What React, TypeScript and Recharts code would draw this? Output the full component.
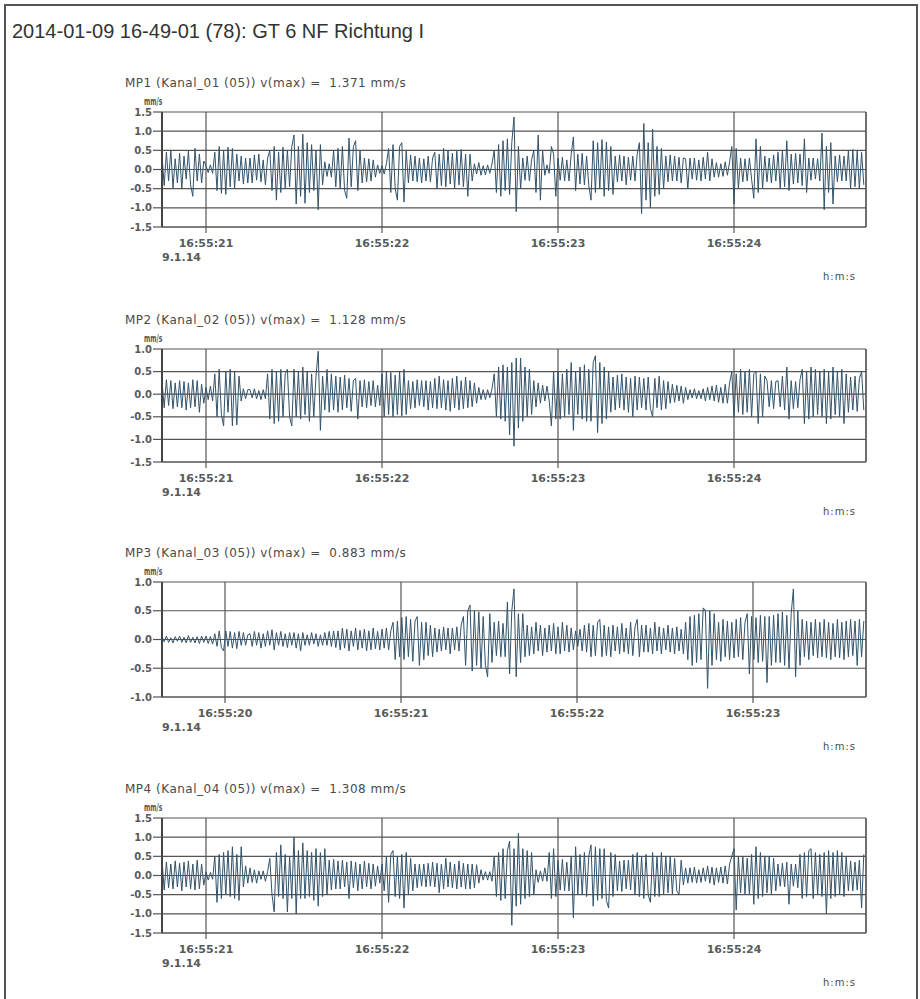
import React from 'react';
import { LineChart, Line, XAxis, YAxis, CartesianGrid, ReferenceLine } from 'recharts';

// vibration velocity, mm/s at 80 samples per second
const RATE = 80;
const SECONDS = 4;

const PAGE_TITLE = '2014-01-09 16-49-01 (78): GT 6 NF Richtung I';
const DATE_LABEL = '9.1.14';
const UNIT = 'mm/s';
const TIME_UNIT = 'h:m:s';

const mp1 = [
  0.38, -0.42, 0.45, -0.3, 0.5, -0.48, 0.28, -0.35, 0.42, -0.5, 0.35, -0.25, 0.48, -0.4, -0.7, 0.55, -0.3, 0.4, -0.35, 0.22,
  0.1, -0.08, 0.12, -0.1, 0.45, -0.55, 0.6, -0.62, 0.5, -0.65, 0.58, -0.45, 0.55, -0.5, 0.4, -0.3, 0.35, -0.38, 0.3, -0.35,
  0.3, -0.35, 0.38, -0.28, 0.4, -0.32, 0.25, -0.4, 0.3, 0.5, -0.55, 0.6, -0.8, 0.45, -0.6, 0.58, -0.5, 0.5, -0.45, 0.6,
  0.9, -0.9, 0.6, -0.7, 0.92, -0.88, 0.7, -0.6, 0.65, -0.55, 0.5, -1.05, 0.65, -0.4, 0.2, -0.18, 0.15, -0.2, 0.5, -0.45,
  0.55, -0.5, 0.6, -0.55, -0.75, 0.82, -0.45, 0.6, 0.75, -0.55, 0.5, -0.35, 0.3, -0.32, 0.28, -0.3, 0.25, -0.2, 0.12, -0.1,
  0.1, -0.12, 0.15, 0.55, -0.6, 0.65, -0.5, -0.8, 0.6, 0.7, -0.85, 0.5, -0.35, 0.38, -0.3, 0.35, -0.32, 0.3, -0.35, 0.28,
  -0.3, 0.35, -0.32, 0.3, 0.45, -0.5, 0.4, -0.42, 0.55, -0.45, 0.5, -0.38, 0.42, -0.5, 0.48, -0.4, 0.52, -0.45, 0.4, -0.7,
  0.4, -0.3, 0.15, -0.12, 0.18, -0.15, 0.1, -0.14, 0.12, -0.1, 0.15, 0.5, -0.6, 0.65, -0.7, 0.75, -0.55, 0.8, -0.65, 0.7,
  1.37, -1.1, 0.6, -0.5, 0.3, -0.28, 0.35, -0.3, 0.25, 0.5, -0.6, 0.9, -0.8, 0.5, -0.15, 0.12, -0.1, 0.6, 0.4, -0.7,
  0.3, -0.28, 0.32, -0.3, 0.25, -0.3, 0.4, 0.85, -0.55, 0.4, -0.38, 0.42, -0.4, 0.35, -0.42, -0.8, 0.75, -0.6, 0.7, -0.5,
  0.78, -0.7, 0.72, -0.55, 0.6, -0.65, 0.35, -0.32, 0.38, -0.3, 0.35, -0.4, 0.32, -0.28, 0.35, -0.3, 0.4, 0.7, -1.15, 1.2,
  -0.8, 0.7, -1.0, 1.05, -0.7, 0.6, -0.65, 0.55, -0.5, 0.35, -0.32, 0.38, -0.3, 0.35, -0.3, 0.32, -0.35, 0.3, 0.28, -0.5,
  0.3, -0.25, 0.3, -0.28, 0.25, -0.3, 0.32, -0.25, 0.45, -0.3, 0.28, -0.2, 0.18, -0.2, 0.15, -0.18, 0.2, -0.15, 0.2, 0.6,
  -0.9, 0.55, -0.5, 0.3, -0.32, 0.28, -0.3, 0.3, -0.25, -0.75, 0.8, -0.6, 0.6, -0.5, 0.35, -0.32, 0.3, -0.35, 0.38, -0.3,
  0.45, -0.5, 0.5, -0.45, 0.75, -0.55, 0.4, -0.38, 0.42, -0.35, 0.4, -0.42, 0.8, -0.6, 0.3, -0.28, 0.3, -0.25, 0.28, -0.3,
  0.95, -1.05, 0.6, -0.6, 0.7, -0.9, 0.35, -0.32, 0.38, -0.3, 0.35, -0.3, 0.5, -0.5, 0.52, -0.45, 0.48, -0.5, 0.45, -0.4,
];

const mp2 = [
  0.28, -0.3, 0.32, -0.25, 0.3, -0.32, 0.25, -0.28, 0.3, -0.3, 0.28, -0.35, 0.25, -0.3, 0.32, -0.28, 0.3, -0.4, 0.22, -0.2,
  0.15, -0.12, 0.18, -0.15, 0.45, -0.5, 0.55, -0.45, -0.7, 0.5, -0.4, 0.55, -0.7, 0.5, -0.68, 0.4, -0.15, 0.12, -0.1, 0.1,
  0.1, -0.08, 0.12, -0.1, 0.08, -0.12, 0.1, -0.1, 0.45, -0.55, 0.55, -0.65, 0.5, -0.6, 0.55, -0.5, 0.45, 0.55, -0.5, -0.7,
  0.55, -0.5, 0.5, -0.55, 0.6, -0.45, 0.5, -0.6, 0.45, -0.5, 0.4, 0.95, -0.8, 0.4, -0.35, 0.55, -0.4, 0.45, -0.35, 0.4,
  -0.4, 0.38, -0.35, 0.42, -0.3, 0.35, -0.38, 0.3, 0.35, -0.55, 0.3, -0.28, 0.32, -0.3, 0.28, -0.25, 0.3, -0.28, 0.2, -0.25,
  0.45, -0.5, 0.5, -0.45, 0.48, -0.5, 0.42, -0.45, 0.5, -0.48, 0.55, -0.45, 0.3, -0.32, 0.28, -0.3, 0.32, -0.25, 0.3, -0.28,
  0.3, -0.35, 0.28, -0.3, 0.35, -0.32, 0.4, -0.3, 0.32, -0.35, 0.3, -0.38, 0.35, -0.3, 0.4, -0.35, 0.3, -0.32, 0.38, -0.3,
  0.3, -0.28, 0.25, -0.2, 0.15, -0.12, 0.1, -0.12, 0.1, -0.08, 0.12, 0.45, -0.5, 0.6, -0.55, 0.65, -0.6, 0.6, -0.9, 0.7,
  -1.15, 0.8, -0.75, 0.8, -0.6, 0.6, -0.5, 0.55, -0.45, 0.3, -0.28, 0.25, -0.2, 0.2, -0.15, 0.18, -0.15, -0.7, 0.5, -0.55,
  0.5, -0.55, 0.45, -0.5, 0.55, -0.45, 0.7, -0.8, 0.5, -0.45, 0.6, -0.55, 0.65, -0.6, 0.55, -0.6, 0.7, 0.85, -0.85, 0.7,
  -0.65, 0.6, -0.55, 0.5, -0.4, 0.38, -0.35, 0.42, -0.3, 0.45, -0.35, 0.38, -0.4, 0.35, -0.5, 0.4, -0.35, 0.38, -0.3, 0.35,
  -0.35, 0.38, -0.32, -0.5, 0.35, -0.3, 0.4, -0.35, 0.3, -0.32, 0.28, -0.2, 0.22, -0.18, 0.2, -0.15, 0.18, -0.2, 0.15, -0.12,
  0.1, -0.08, 0.12, -0.1, 0.08, -0.1, 0.12, -0.15, 0.15, -0.12, 0.18, -0.15, 0.2, -0.18, 0.15, -0.2, 0.22, -0.2, 0.25, 0.5,
  -0.5, 0.45, -0.4, 0.55, -0.45, 0.5, -0.4, 0.55, -0.5, 0.45, 0.5, -0.65, 0.45, -0.5, 0.4, 0.3, -0.28, 0.3, -0.32, 0.28,
  0.3, -0.28, 0.4, -0.35, 0.6, -0.55, 0.3, -0.32, 0.28, -0.3, 0.32, 0.55, -0.65, 0.5, -0.55, 0.6, -0.5, 0.55, -0.45, 0.5,
  -0.5, 0.55, -0.65, 0.5, -0.55, 0.6, -0.45, 0.5, -0.5, 0.55, -0.65, 0.45, -0.4, 0.38, -0.35, 0.4, -0.38, 0.35, 0.5, -0.35,
];

const mp3 = [
  0.05, -0.04, 0.06, -0.05, 0.03, -0.06, 0.05, -0.03, 0.06, -0.05, 0.04, -0.06, 0.07, -0.05, 0.04, -0.06, 0.05, -0.07, 0.06, -0.05,
  0.06, -0.07, 0.05, -0.08, 0.1, -0.12, 0.15, -0.14, -0.2, 0.15, -0.12, 0.14, -0.15, 0.12, -0.16, 0.14, -0.1, 0.12, -0.1, 0.08,
  0.1, -0.12, 0.14, -0.1, 0.12, -0.15, 0.1, -0.12, 0.15, -0.1, 0.17, -0.18, 0.12, -0.1, 0.14, -0.12, 0.1, -0.14, 0.12, -0.1,
  0.12, -0.15, 0.1, -0.2, 0.12, -0.1, 0.08, -0.1, 0.12, -0.08, 0.1, -0.12, 0.08, -0.1, 0.12, -0.1, 0.14, -0.12, 0.15, -0.14,
  0.15, -0.18, 0.2, -0.15, 0.18, -0.2, 0.15, -0.12, 0.2, -0.18, 0.16, -0.15, 0.18, -0.2, 0.15, -0.18, 0.2, -0.16, 0.14, -0.18,
  0.18, -0.15, 0.2, -0.18, 0.15, 0.3, -0.35, 0.32, -0.3, 0.38, -0.35, 0.4, -0.3, 0.35, -0.38, 0.32, 0.4, -0.45, 0.3, -0.35,
  0.3, -0.28, 0.25, -0.3, 0.2, -0.22, 0.18, -0.2, 0.22, -0.18, 0.2, -0.25, 0.2, -0.18, 0.22, -0.2, 0.25, 0.4, -0.45, 0.5,
  0.6, -0.55, 0.5, -0.45, 0.48, -0.5, 0.4, -0.45, -0.65, 0.45, -0.4, 0.3, -0.28, 0.32, -0.3, 0.28, -0.3, 0.65, -0.6, 0.5,
  0.88, -0.65, 0.45, -0.4, 0.45, -0.3, 0.25, -0.28, 0.22, -0.25, 0.3, -0.2, 0.25, -0.28, 0.2, -0.22, 0.25, -0.2, 0.28, -0.25,
  0.22, -0.25, 0.3, -0.2, 0.25, -0.22, 0.2, -0.18, 0.15, -0.12, 0.18, -0.2, 0.25, -0.22, 0.28, -0.3, 0.25, -0.28, 0.3, 0.35,
  -0.3, 0.25, -0.28, 0.22, -0.3, 0.25, -0.2, 0.22, -0.25, 0.28, -0.22, 0.2, -0.25, 0.3, -0.28, 0.22, 0.35, -0.3, 0.25, -0.22,
  0.25, -0.22, 0.2, -0.25, 0.3, -0.2, 0.22, -0.25, 0.2, -0.18, 0.25, -0.22, 0.2, -0.25, 0.22, -0.2, 0.18, -0.25, 0.3, -0.35,
  0.4, -0.45, 0.42, -0.4, 0.45, -0.35, 0.55, 0.5, -0.85, 0.5, -0.45, 0.45, -0.35, 0.3, -0.38, 0.35, -0.3, 0.32, -0.35, 0.3,
  -0.32, 0.35, -0.3, 0.38, -0.35, 0.3, 0.45, -0.6, 0.4, -0.35, 0.38, -0.4, 0.42, -0.38, 0.4, -0.75, 0.4, -0.45, 0.42, -0.4,
  0.45, -0.4, 0.48, -0.45, 0.42, -0.5, 0.45, 0.88, -0.65, 0.5, -0.45, 0.35, -0.3, 0.32, -0.35, 0.3, -0.28, 0.35, -0.32, 0.3,
  -0.3, 0.35, -0.32, 0.3, -0.35, 0.28, -0.3, 0.35, -0.32, 0.3, -0.35, 0.32, -0.3, 0.35, -0.28, 0.32, -0.45, 0.35, -0.3, 0.32,
];

const mp4 = [
  0.4, -0.38, 0.35, -0.32, 0.3, -0.35, 0.38, -0.3, 0.32, -0.4, 0.35, -0.3, 0.38, -0.35, 0.3, -0.38, 0.4, -0.35, 0.3, -0.25,
  0.1, -0.12, 0.08, -0.1, 0.5, -0.7, 0.55, -0.6, 0.6, -0.5, 0.65, -0.55, 0.75, -0.6, 0.55, -0.65, 0.75, -0.3, 0.25, -0.2,
  0.2, -0.18, 0.15, -0.2, 0.12, -0.1, 0.12, -0.15, 0.1, 0.45, -0.5, -0.95, 0.6, -0.55, 0.8, -0.6, 0.55, -0.95, 0.5, -0.6,
  1.0, -1.0, 0.65, -0.6, 0.85, -0.6, 0.65, -0.55, 0.6, -0.65, 0.7, -0.8, 0.6, -0.55, 0.7, -0.5, 0.4, -0.38, 0.42, -0.35,
  0.38, -0.35, 0.4, -0.3, 0.35, -0.6, 0.38, -0.32, 0.35, -0.4, 0.3, -0.35, 0.38, -0.3, 0.32, -0.35, 0.3, -0.28, 0.25, -0.2,
  0.3, -0.4, 0.5, -0.7, 0.55, 0.65, -0.55, 0.5, -0.6, 0.55, -0.85, 0.6, -0.5, 0.45, -0.4, 0.3, -0.32, 0.3, -0.28, 0.3,
  -0.3, 0.32, -0.28, 0.35, -0.3, 0.32, -0.45, 0.3, -0.35, 0.45, -0.3, 0.35, -0.32, 0.3, -0.35, 0.38, -0.3, 0.32, -0.35, 0.3,
  -0.35, 0.3, -0.32, 0.28, -0.2, 0.15, -0.12, 0.1, -0.12, 0.1, -0.15, 0.5, -0.55, 0.6, -0.65, 0.7, -0.6, 0.65, 0.9, -1.3,
  0.7, -0.8, 1.1, -0.75, 0.7, -0.6, 0.65, -0.55, 0.6, -0.5, 0.15, -0.18, 0.12, -0.15, 0.2, -0.15, 0.6, -0.6, 0.7, -0.55,
  0.4, -0.38, 0.42, -0.4, 0.35, -0.4, 0.5, -1.1, 0.75, -0.5, 0.55, -0.5, 0.6, -0.55, 0.5, 0.8, -0.8, 0.75, -0.65, 0.7,
  -0.6, 0.7, -0.65, -0.85, 0.6, -0.55, 0.55, -0.4, 0.38, -0.42, 0.4, -0.35, 0.4, -0.38, 0.55, -0.5, 0.6, -0.55, 0.5, -0.6,
  0.55, -0.5, -0.7, 0.6, -0.55, 0.5, -0.55, 0.6, -0.5, 0.5, -0.45, 0.5, -0.48, 0.45, -0.4, -0.5, 0.4, -0.25, 0.2, -0.2,
  0.2, -0.18, 0.22, -0.2, 0.15, -0.18, 0.2, -0.15, 0.25, -0.2, 0.22, -0.25, 0.2, -0.18, 0.22, -0.2, 0.25, -0.22, 0.3, 0.5,
  0.7, -0.9, 0.5, -0.45, 0.5, -0.48, 0.45, -0.5, 0.55, -0.75, 0.75, -0.6, 0.6, -0.55, 0.5, -0.45, 0.5, -0.48, 0.45, -0.4,
  0.3, -0.28, 0.32, -0.3, 0.35, -0.75, 0.3, -0.28, 0.3, -0.32, 0.55, -0.6, 0.6, -0.55, 0.65, 0.7, -0.6, 0.6, -0.5, 0.55,
  -0.55, 0.6, -1.0, 0.65, -0.6, 0.6, -0.55, 0.65, -0.5, 0.6, -0.55, 0.5, -0.4, 0.38, -0.4, 0.35, -0.38, 0.4, -0.85, 0.55,
];

const ticksA = [21, 22, 23, 24];
const ticksB = [20, 21, 22, 23];
const y15 = [-1.5, -1.0, -0.5, 0, 0.5, 1.0, 1.5];
const y10 = [-1.5, -1.0, -0.5, 0, 0.5, 1.0];
const y1 = [-1.0, -0.5, 0, 0.5, 1.0];

const panels = [
  { title: 'MP1 (Kanal_01 (05)) v(max) =  1.371 mm/s', values: mp1, start: 20.75, xTicks: ticksA, yTicks: y15, top: 112, h: 115 },
  { title: 'MP2 (Kanal_02 (05)) v(max) =  1.128 mm/s', values: mp2, start: 20.75, xTicks: ticksA, yTicks: y10, top: 349, h: 113 },
  { title: 'MP3 (Kanal_03 (05)) v(max) =  0.883 mm/s', values: mp3, start: 19.642, xTicks: ticksB, yTicks: y1, top: 582, h: 115 },
  { title: 'MP4 (Kanal_04 (05)) v(max) =  1.308 mm/s', values: mp4, start: 20.75, xTicks: ticksA, yTicks: y15, top: 818, h: 115 },
];

const GRID = '#555';
const TEXT = '#4a4a4a';
const tickFont = { fontSize: 10, fontFamily: 'DejaVu Sans', fontWeight: 'bold', fill: '#5a5a5a' };

const label = (left: number, centerY: number, extra: React.CSSProperties = {}): React.CSSProperties => ({
  position: 'absolute',
  left,
  top: centerY,
  transform: 'translateY(-50%)',
  lineHeight: 1,
  whiteSpace: 'pre',
  color: TEXT,
  fontFamily: 'DejaVu Sans',
  ...extra,
});

function Panel({ p }: { p: any }) {
  const data = p.values.map((v: number, i: number) => ({ t: p.start + i / RATE, v }));
  const end = p.start + SECONDS;
  const yMin = p.yTicks[0];
  const yMax = p.yTicks[p.yTicks.length - 1];
  const bottom = p.top + p.h;
  return (
    <>
      <div style={label(125, p.top - 29, { fontSize: 12, letterSpacing: 0.5 })}>{p.title}</div>
      <div
        style={label(144, p.top - 10, {
          fontSize: 10,
          fontWeight: 'bold',
          color: '#555',
          transform: 'translateY(-50%) scaleX(0.6)',
          transformOrigin: 'left center',
        })}
      >
        {UNIT}
      </div>
      <div style={{ position: 'absolute', left: 0, top: p.top - 5 }}>
        <LineChart width={920} height={p.h + 35} data={data} margin={{ top: 5, right: 54, bottom: 0, left: 112 }}>
          <CartesianGrid stroke={GRID} strokeWidth={1.2} />
          <XAxis
            type="number"
            dataKey="t"
            domain={[p.start, end]}
            ticks={p.xTicks}
            allowDataOverflow
            interval={0}
            height={30}
            tickSize={6}
            tickMargin={6}
            tickFormatter={(t: number) => `16:55:${t}`}
            axisLine={{ stroke: GRID, strokeWidth: 1.2 }}
            tickLine={{ stroke: GRID, strokeWidth: 1.2 }}
            tick={{ ...tickFont, fontSize: 11 }}
          />
          <YAxis
            type="number"
            domain={[yMin, yMax]}
            ticks={p.yTicks}
            allowDataOverflow
            interval={0}
            width={50}
            tickSize={9}
            tickMargin={1}
            tickFormatter={(v: number) => v.toFixed(1)}
            axisLine={{ stroke: '#444', strokeWidth: 2 }}
            tickLine={{ stroke: GRID, strokeWidth: 1.2 }}
            tick={tickFont}
          />
          <ReferenceLine x={end} stroke={GRID} strokeWidth={1.2} />
          <Line type="linear" dataKey="v" stroke="#33536a" strokeWidth={1} dot={false} isAnimationActive={false} />
        </LineChart>
      </div>
      <div style={label(162, bottom + 29.5, { fontSize: 11, fontWeight: 'bold', color: '#5a5a5a' })}>{DATE_LABEL}</div>
      <div style={label(823, bottom + 50, { fontSize: 10, letterSpacing: 1 })}>{TIME_UNIT}</div>
    </>
  );
}

export default function App() {
  return (
    <div style={{ position: 'absolute', left: 0, top: 0, width: 920, height: 999, overflow: 'hidden', background: '#fff' }}>
      <div style={{ position: 'absolute', left: 4, top: 4, width: 910, height: 1020, border: '2px solid #555' }} />
      <div style={label(12, 31, { fontSize: 20, fontFamily: 'Liberation Sans', color: '#333' })}>{PAGE_TITLE}</div>
      {panels.map((p, i) => (
        <Panel key={i} p={p} />
      ))}
    </div>
  );
}
